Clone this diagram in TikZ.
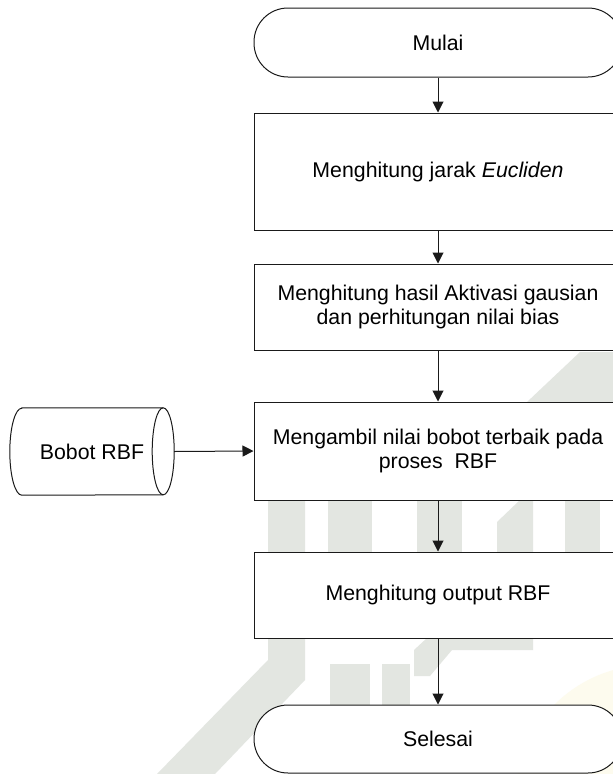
\documentclass[tikz,border=0pt]{standalone}
\usepackage{fontspec}
\setmainfont{Liberation Sans}
\usetikzlibrary{arrows.meta}

\definecolor{lineink}{HTML}{1A1A1A}
\definecolor{markgray}{HTML}{E3E6E1}
\definecolor{markyellow}{HTML}{FDFBEE}

\tikzset{
  flowtext/.style={font=\fontsize{21.3}{24}\selectfont, text=black, align=center},
  procbox/.style={flowtext, draw=lineink, line width=1pt, fill=white,
    rectangle, minimum width=368pt, inner sep=0pt},
  termbox/.style={procbox, rounded corners=34pt},
  flowarrow/.style={draw=lineink, line width=1pt,
    -{Triangle[length=11pt,width=11pt]}},
  markfill/.style={fill=markgray, draw=none},
}

\begin{document}
\begin{tikzpicture}[x=1pt,y=1pt]
  \useasboundingbox (0,0) rectangle (613,-774);
  \clip (0,0) rectangle (613,-774);
  \fill[white] (0,0) rectangle (613,-774);

  % faint background logo
  \fill[markyellow] (650,-800) circle[radius=135];
  \fill[markfill] (157,-774) -- (215,-774) -- (305,-680) -- (305,-500)
                  -- (268,-500) -- (268,-660) -- cycle;
  \fill[markfill] (328,-500) rectangle (372,-560);
  \fill[markfill] (330,-664) rectangle (370,-705);
  \fill[markfill] (382,-664) rectangle (410,-705);
  \fill[markfill] (417,-500) rectangle (462,-560);
  \fill[markfill] (497,-560) -- (533,-560) -- (533,-500) -- (520,-500)
                  -- (497,-522) -- cycle;
  \fill[markfill] (565,-500) rectangle (600,-560);
  \fill[markfill] (527,-402) -- (613,-402) -- (613,-352) -- (580,-352) -- cycle;
  \fill[markfill] (427,-638) -- (533,-638) -- (533,-650) -- (452,-650)
                  -- (430,-676) -- (414,-676) -- (414,-650) -- cycle;

  % main flow
  \node[termbox, minimum height=69pt] (start) at (438,-42.5) {Mulai};
  \node[procbox, minimum height=117pt] (b1) at (438,-171.5)
       {Menghitung jarak \textit{Eucliden}};
  \node[procbox, minimum height=86pt] (b2) at (438,-307)
       {Menghitung hasil Aktivasi gausian\\dan perhitungan nilai bias};
  \node[procbox, minimum height=98pt] (b3) at (438,-451)
       {Mengambil nilai bobot terbaik pada\\proses\ \ RBF};
  \node[procbox, minimum height=86pt] (b4) at (438,-595)
       {Menghitung output RBF};
  \node[termbox, minimum height=68pt] (stop) at (438,-739) {Selesai};

  % stored data (horizontal cylinder)
  \node[flowtext, rectangle, minimum width=164pt, minimum height=87pt,
        inner sep=0pt] (bobot) at (92,-451.5) {Bobot RBF};
  \draw[lineink, line width=1pt]
    ([xshift=12pt]bobot.north west) -- ([xshift=-11pt]bobot.north east)
    arc[start angle=90, end angle=-90, x radius=11pt, y radius=43.5pt]
    -- ([xshift=12pt]bobot.south west)
    arc[start angle=270, end angle=90, x radius=12pt, y radius=43.5pt]
    -- cycle;
  \draw[lineink, line width=1pt]
    ([xshift=-11pt]bobot.north east)
    arc[start angle=90, end angle=270, x radius=11pt, y radius=43.5pt];

  % connectors
  \draw[flowarrow] (start.south) -- (b1.north);
  \draw[flowarrow] (b1.south) -- (b2.north);
  \draw[flowarrow] (b2.south) -- (b3.north);
  \draw[flowarrow] (b3.south) -- (b4.north);
  \draw[flowarrow] (b4.south) -- (stop.north);
  \draw[flowarrow] (bobot.east) -- (b3.west);
\end{tikzpicture}
\end{document}
